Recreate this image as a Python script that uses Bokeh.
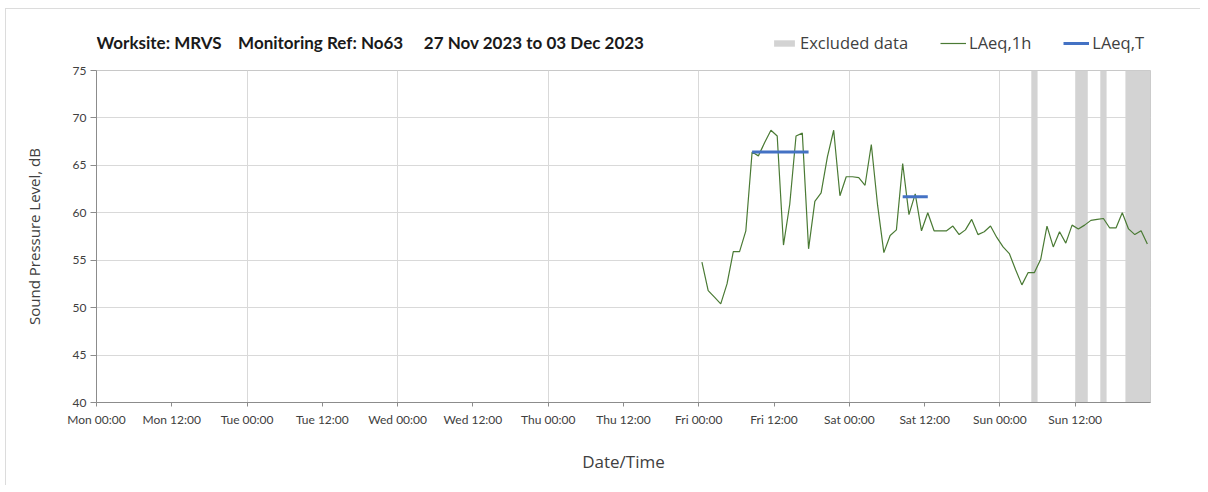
import pandas as pd
from bokeh.plotting import figure
from bokeh.layouts import column
from bokeh.models import (Range1d, FixedTicker, Legend, LegendItem, Label,
                          ColumnDataSource)
from bokeh.embed import file_html
from bokeh.resources import INLINE

# ---------------- data ----------------
title_text = ("Worksite: MRVS\u00a0\u00a0\u00a0 Monitoring Ref: No63"
              "\u00a0\u00a0\u00a0\u00a0 27 Nov 2023 to 03 Dec 2023")

week_start = "2023-11-27 00:00"
week_end = "2023-12-04 00:00"

laeq_1h_start = "2023-12-01 00:30"   # hourly values, plotted at mid-hour
laeq_1h = [54.8, 51.8, 51.1, 50.4, 52.5, 55.9, 55.9, 58.1, 66.4, 66.0,
           67.4, 68.7, 68.1, 56.6, 60.9, 68.1, 68.4, 56.2, 61.2, 62.1,
           65.9, 68.7, 61.8, 63.8, 63.8, 63.7, 62.9, 67.2, 60.8, 55.8,
           57.6, 58.2, 65.2, 59.8, 62.0, 58.1, 60.0, 58.1, 58.1, 58.1,
           58.6, 57.7, 58.2, 59.3, 57.7, 58.0, 58.6, 57.4, 56.4, 55.7,
           54.0, 52.4, 53.7, 53.7, 55.1, 58.6, 56.4, 58.0, 56.8, 58.7,
           58.3, 58.7, 59.2, 59.3, 59.4, 58.4, 58.4, 60.0, 58.3, 57.7,
           58.1, 56.7]

laeq_t_start = ["2023-12-01 08:30", "2023-12-02 08:30"]
laeq_t_end = ["2023-12-01 17:30", "2023-12-02 12:30"]
laeq_t = [66.4, 61.7]

excluded_start = ["2023-12-03 05:00", "2023-12-03 12:00",
                  "2023-12-03 16:00", "2023-12-03 20:00"]
excluded_end = ["2023-12-03 06:00", "2023-12-03 14:00",
                "2023-12-03 17:00", "2023-12-04 00:00"]

tick_labels = ["Mon 00:00", "Mon 12:00", "Tue 00:00", "Tue 12:00",
               "Wed 00:00", "Wed 12:00", "Thu 00:00", "Thu 12:00",
               "Fri 00:00", "Fri 12:00", "Sat 00:00", "Sat 12:00",
               "Sun 00:00", "Sun 12:00"]
y_ticks = [40, 45, 50, 55, 60, 65, 70, 75]
y_min, y_max = 40, 75

# ---------------- helpers ----------------
t0 = pd.Timestamp(week_start)
def hours(ts):
    return (pd.Timestamp(ts) - t0) / pd.Timedelta(hours=1)

x_end = hours(week_end)
first_h = hours(laeq_1h_start)
x_1h = [first_h + i for i in range(len(laeq_1h))]
tick_pos = [12 * i for i in range(len(tick_labels))]
grid_pos = [24 * i for i in range(1, 7)]

ex_src = ColumnDataSource(dict(
    left=[hours(s) for s in excluded_start],
    right=[hours(e) for e in excluded_end],
    bottom=[y_min] * len(excluded_start),
    top=[y_max] * len(excluded_start)))
t_src = ColumnDataSource(dict(
    x0=[hours(s) for s in laeq_t_start], x1=[hours(e) for e in laeq_t_end],
    y=laeq_t))
h_src = ColumnDataSource(dict(x=x_1h, y=laeq_1h))

FONT_TICK = "Lato"
FONT_TXT = "Open Sans"
TXT_COL = "#404040"
GRID_COL = "#d9d9d9"
AXIS_COL = "#8c8c8c"
COL_EX = "#d3d3d3"
COL_1H = "#4a7a34"
COL_T = "#4472c4"

W = 1194
HEAD_H = 53

# ---------------- header strip: title + legend ----------------
# (its frame is aligned with the chart frame by the column layout)
head = figure(width=W, height=HEAD_H, output_backend="svg", toolbar_location=None,
              x_range=Range1d(0, 1), y_range=Range1d(0, 1),
              x_axis_location=None, y_axis_location=None,
              min_border=0, outline_line_color=None)
head.grid.visible = False
head.background_fill_color = "white"
head.border_fill_color = "white"

head.add_layout(Label(x=0, y=20, x_units="screen", y_units="screen",
                      text=title_text, text_font=FONT_TICK,
                      text_font_style="bold", text_font_size="17px",
                      text_color="#1a1a1a", text_baseline="middle"))

# legend keys: same series, outside this strip's visible ranges
k_ex = head.quad(left="left", right="right", bottom="bottom", top="top",
                 source=ex_src, fill_color=COL_EX, line_color=None)
k_1h = head.line(x="x", y="y", source=h_src, line_color=COL_1H, line_width=1.2)
k_t = head.segment(x0="x0", y0="y", x1="x1", y1="y", source=t_src,
                   line_color=COL_T, line_width=3)
legend = Legend(items=[LegendItem(label="Excluded data", renderers=[k_ex]),
                       LegendItem(label="LAeq,1h", renderers=[k_1h]),
                       LegendItem(label="LAeq,T", renderers=[k_t])],
                location=(675, 8), orientation="horizontal",
                glyph_width=26, glyph_height=8, label_standoff=3, spacing=32,
                padding=0, margin=0, label_height=20,
                label_text_font=FONT_TXT, label_text_font_size="16.5px",
                label_text_color=TXT_COL,
                background_fill_alpha=0, border_line_alpha=0)
head.add_layout(legend, "center")

# ---------------- main chart ----------------
p = figure(width=W, height=476 - HEAD_H, output_backend="svg",
           toolbar_location=None,
           x_range=Range1d(0, x_end), y_range=Range1d(y_min, y_max),
           min_border_left=90, min_border_right=50, min_border_top=8,
           min_border_bottom=83)
p.outline_line_color = "#c8c8c8"
p.background_fill_color = "white"
p.border_fill_color = "white"

p.xaxis.ticker = FixedTicker(ticks=tick_pos)
p.xaxis.major_label_overrides = {t: lab for t, lab in zip(tick_pos, tick_labels)}
p.yaxis.ticker = FixedTicker(ticks=y_ticks)
for ax in (p.xaxis[0], p.yaxis[0]):
    ax.axis_line_color = AXIS_COL
    ax.major_tick_line_color = AXIS_COL
    ax.minor_tick_line_color = None
    ax.major_tick_in = 0
    ax.major_label_text_font = FONT_TICK
    ax.major_label_text_font_size = "12px"
    ax.major_label_text_color = TXT_COL
    ax.axis_label_text_font = FONT_TXT
    ax.axis_label_text_font_style = "normal"
    ax.axis_label_text_color = TXT_COL
p.xaxis.major_tick_out = 4
p.xaxis.major_label_standoff = 5
p.xaxis.axis_label = "Date/Time"
p.xaxis.axis_label_text_font_size = "17px"
p.xaxis.axis_label_standoff = 20
p.yaxis.major_tick_out = 6
p.yaxis.major_label_standoff = 4
p.yaxis.axis_label = "Sound Pressure Level, dB"
p.yaxis.axis_label_text_font_size = "15px"
p.yaxis.axis_label_standoff = 26

p.xgrid.ticker = FixedTicker(ticks=grid_pos)
p.xgrid.grid_line_color = GRID_COL
p.ygrid.ticker = FixedTicker(ticks=y_ticks)
p.ygrid.grid_line_color = GRID_COL

p.quad(left="left", right="right", bottom="bottom", top="top",
       source=ex_src, fill_color=COL_EX, line_color=None)
p.line(x="x", y="y", source=h_src, line_color=COL_1H, line_width=1.2)
p.segment(x0="x0", y0="y", x1="x1", y1="y", source=t_src,
          line_color=COL_T, line_width=3)

layout = column(head, p, spacing=0)
layout.styles = {"margin-left": "5px", "margin-top": "8px",
                 "border-left": "1px solid #dcdcdc",
                 "border-top": "1px solid #dcdcdc"}

open("out.html", "w").write(file_html(layout, INLINE))
